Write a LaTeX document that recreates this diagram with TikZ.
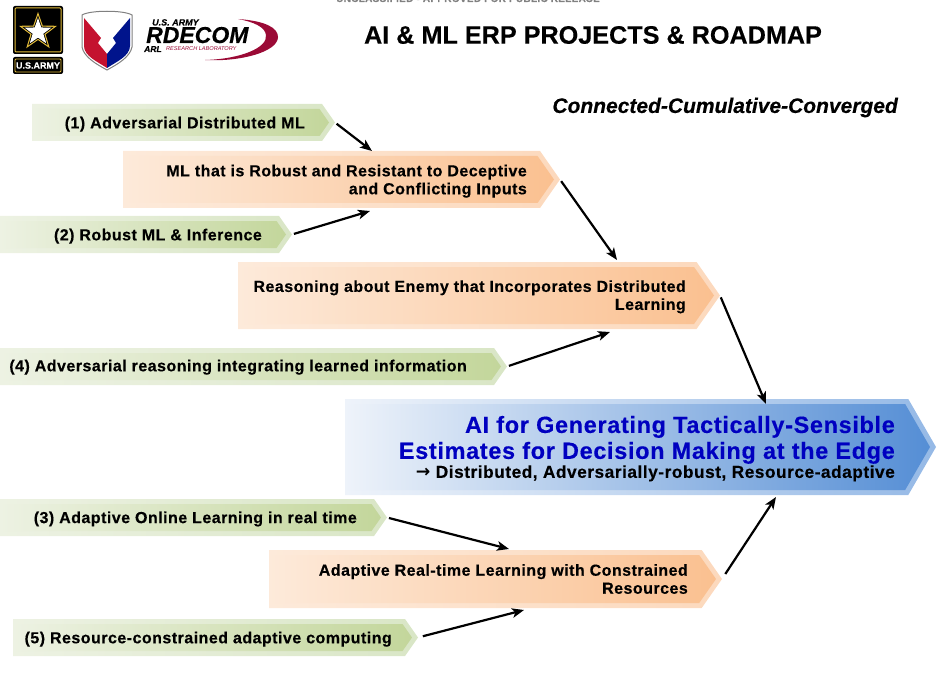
\documentclass[tikz,border=0pt]{standalone}
\usepackage{fontspec}
\setmainfont[LetterSpace=3,BoldFeatures={FakeBold=0.35}]{Liberation Sans}
\newfontfamily\plainsans[BoldFeatures={FakeBold=0.35},BoldItalicFeatures={FakeBold=0.35}]{Liberation Sans}
\newfontfamily\arrowsans{DejaVu Sans Bold}
\usetikzlibrary{positioning,shapes,arrows.meta}
\definecolor{greenpale}{HTML}{EDF2E3}
\definecolor{greenmid}{HTML}{D9E6C6}
\definecolor{greendeep}{HTML}{C3D69B}
\definecolor{peachpale}{HTML}{FDEADA}
\definecolor{peachmid}{HTML}{FCD9BD}
\definecolor{peachdeep}{HTML}{FAC090}
\definecolor{bluepale}{HTML}{EEF3FA}
\definecolor{bluemid}{HTML}{95B9E6}
\definecolor{bluedeep}{HTML}{558ED5}
\definecolor{titleblue}{HTML}{0000C0}
\definecolor{armygold}{HTML}{E3BC3A}
\definecolor{shieldred}{HTML}{C4122F}
\definecolor{shieldblue}{HTML}{00148C}
\definecolor{swoosh}{HTML}{9B0A36}
\tikzset{
  banner/.style={signal,signal to=east,signal from=nowhere,inner sep=0pt,outer sep=0pt,shading angle=90},
  bannergreen/.style={banner,signal pointer angle=110,left color=greenpale,right color=greenmid},
  bannergreenin/.style={banner,signal pointer angle=110,left color=greenpale,right color=greendeep},
  bannerpeach/.style={banner,signal pointer angle=110,left color=peachpale,right color=peachmid},
  bannerpeachin/.style={banner,signal pointer angle=110,left color=peachpale,right color=peachdeep},
  bannerblue/.style={banner,signal pointer angle=120,left color=bluepale,right color=bluemid},
  bannerbluein/.style={banner,signal pointer angle=120,left color=bluepale,right color=bluedeep},
  bannertext/.style={anchor=east,align=right,inner sep=0pt,font=\fontsize{16}{18}\selectfont\bfseries},
  link/.style={->,line width=2.2pt,shorten <=2pt}
}
\newcommand{\newBanner}[8]{
  \pgfmathsetmacro{\bw}{#4-#3}
  \pgfmathsetmacro{\bh}{#6-#5}
  \pgfmathsetmacro{\by}{(#5+#6)/2}
  \node[banner#8,anchor=west,minimum width=\bw pt,minimum height=\bh pt](#1) at (#3,\by) {};
  \node[banner#8in,anchor=west,minimum width=\bw pt-6pt,minimum height=\bh pt-10pt](#1in) at (#3,\by) {};
  \node[bannertext](#1txt) at #7 {#2};
}
\newcommand{\newLink}[3]{\draw[link,#3] (#1) -- (#2);}
\newcommand{\goalHead}[1]{{\color{titleblue}\fontsize{23.4}{26}\selectfont #1}}
\newcommand{\goalSub}[1]{{\fontsize{17.3}{19}\selectfont #1}}
\begin{document}
\begin{tikzpicture}[x=1pt,y=-1pt,>={Stealth[length=12pt,width=9.5pt,inset=3pt]}]
  \useasboundingbox (0,0) rectangle (942,679);
  % top line, cut by the page
  \node[anchor=base,gray,font=\fontsize{10}{12}\selectfont\bfseries](marking) at (468,2) {UNCLASSIFIED - APPROVED FOR PUBLIC RELEASE};
  % logos
  \fill[black,rounded corners=2pt] (13,6) rectangle (63,54);
  \draw[armygold,line width=1pt,rounded corners=1pt] (15,8) rectangle (61,52);
  \node[star,star points=5,star point ratio=2.5,fill=armygold,minimum size=40pt,inner sep=0pt](armystar) at (38,32) {};
  \node[star,star points=5,star point ratio=2.5,fill=black,minimum size=33pt,inner sep=0pt](armystarb) at (38,32) {};
  \node[star,star points=5,star point ratio=2.5,fill=white,minimum size=28pt,inner sep=0pt](armystarc) at (38,32) {};
  \fill[black,rounded corners=2pt] (13,57) rectangle (63,74);
  \draw[armygold,line width=.8pt,rounded corners=1pt] (15,59) rectangle (61,72);
  \node[white,font=\plainsans\fontsize{9}{10}\selectfont\bfseries](armyname) at (38,65.5) {U.S.ARMY};
  \filldraw[fill=white,draw=gray,line width=1pt] (82,15) .. controls (90,10) and (124,10) .. (132,15)
    -- (132,47) .. controls (130,57) and (118,64) .. (107,70) .. controls (96,64) and (84,57) .. (82,47) -- cycle;
  \fill[shieldred] (84,18) -- (101,38) -- (98,43) -- (107,54) -- (107,68) .. controls (98,62) and (84,56) .. (84,46) -- cycle;
  \fill[shieldblue] (130,18) -- (113,38) -- (116,43) -- (107,54) -- (107,68) .. controls (116,62) and (130,56) .. (130,46) -- cycle;
  \fill[swoosh] (238,19) .. controls (266,21) and (278,28) .. (278,37) .. controls (278,52) and (240,62) .. (205,60)
    .. controls (240,59) and (268,48) .. (266,35) .. controls (265,27) and (254,22) .. (238,19) -- cycle;
  \node[anchor=base west,inner sep=0pt,text height=6pt,text depth=0pt,font=\plainsans\fontsize{9}{10}\selectfont\bfseries\itshape](armyline) at (152,25.5) {U.S. ARMY};
  \node[anchor=base west,inner sep=0pt,text height=15pt,text depth=0pt,font=\plainsans\fontsize{23}{25}\selectfont\bfseries\itshape](rdecom) at (146,43) {RDECOM};
  \node[anchor=base west,inner sep=0pt,text height=5pt,text depth=0pt,font=\plainsans\fontsize{8.5}{9}\selectfont\bfseries\itshape](arl) at (144,52) {ARL};
  \node[anchor=base west,inner sep=0pt,text height=4pt,text depth=0pt,swoosh,font=\plainsans\fontsize{5.6}{7}\selectfont\itshape](lab) at (166,51) {RESEARCH LABORATORY};
  % titles
  \node[font=\plainsans\fontsize{25.2}{28}\selectfont\bfseries](title) at (593,35) {AI \& ML ERP PROJECTS \& ROADMAP};
  \node[anchor=east,inner sep=0pt,font=\plainsans\fontsize{21}{24}\selectfont\bfseries\itshape](motto) at (898,107.5) {Connected-Cumulative-Converged};
  % banners
  \newBanner{a1}{(1) Adversarial Distributed ML}{32}{335}{104}{141}{(305,124.2)}{green}
  \newBanner{a2}{(2) Robust ML \& Inference}{0}{292}{216}{253}{(262,236.2)}{green}
  \newBanner{a4}{(4) Adversarial reasoning integrating learned information}{0}{507}{348}{385}{(467,367.2)}{green}
  \newBanner{a3}{(3) Adaptive Online Learning in real time}{0}{387}{499}{536}{(357,519)}{green}
  \newBanner{a5}{(5) Resource-constrained adaptive computing}{13}{418}{619}{656}{(392,639.2)}{green}
  \newBanner{b1}{ML that is Robust and Resistant to Deceptive\\and Conflicting Inputs}{123}{560}{151}{208}{(527,181.2)}{peach}
  \newBanner{b2}{Reasoning about Enemy that Incorporates Distributed\\Learning}{238}{720}{262}{329}{(686,296.8)}{peach}
  \newBanner{b3}{Adaptive Real-time Learning with Constrained\\Resources}{269}{722}{550}{608}{(688,579)}{peach}
  \newBanner{goal}{\goalHead{AI for Generating Tactically-Sensible}\\[3pt]\goalHead{Estimates for Decision Making at the Edge}\\[1pt]\goalSub{{\arrowsans →} Distributed, Adversarially-robust, Resource-adaptive}}{345}{936}{399}{495}{(895,448.7)}{blue}
  % connector ends
  \coordinate (b1topin) at (372,151);
  \coordinate (b1botin) at (370,211);
  \coordinate (b2topin) at (617,260);
  \coordinate (b2botin) at (610,332);
  \coordinate (goaltop) at (766,404);
  \coordinate (goalbot) at (776,497);
  \coordinate (b3topin) at (509,549);
  \coordinate (b3botin) at (524,610);
  \newLink{a1.east}{b1topin}{}
  \newLink{a2.east}{b1botin}{}
  \newLink{b1.east}{b2topin}{}
  \newLink{a4.east}{b2botin}{}
  \newLink{b2.east}{goaltop}{}
  \newLink{b3.east}{goalbot}{shorten <=6pt}
  \newLink{a3.east}{b3topin}{}
  \newLink{a5.east}{b3botin}{shorten <=5pt}
\end{tikzpicture}
\end{document}
